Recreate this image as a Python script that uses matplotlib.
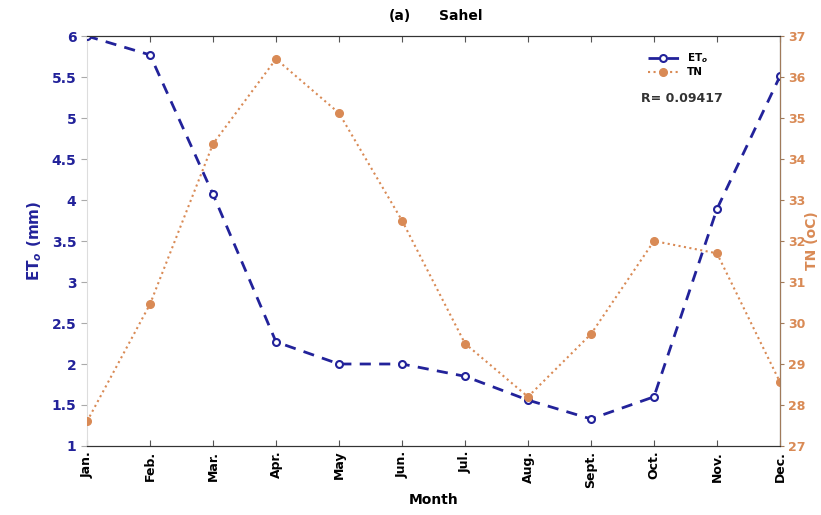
import matplotlib
matplotlib.use("Agg")
import matplotlib.pyplot as plt

# Data
months = ["Jan.", "Feb.", "Mar.", "Apr.", "May", "Jun.", "Jul.", "Aug.", "Sept.", "Oct.", "Nov.", "Dec."]
eto = [6.0, 5.77, 4.07, 2.27, 2.0, 2.0, 1.85, 1.56, 1.33, 1.6, 3.89, 5.51]
tn = [27.6, 30.46, 34.37, 36.44, 35.12, 32.5, 29.5, 28.2, 29.73, 32.0, 31.7, 28.56]
r_text = "R= 0.09417"

c_BLUE = "#22229a"
c_ORANGE = "#d98a55"
c_RSPINE = "#a07a5a"

plt.rcParams["font.family"] = "DejaVu Sans"
plt.rcParams["font.weight"] = "bold"

fig = plt.figure(figsize=(8.21, 5.15), dpi=100)
ax = fig.add_axes([0.106, 0.134, 0.844, 0.796])
ax2 = ax.twinx()

x = list(range(len(months)))
l1, = ax.plot(x, eto, linestyle=(0, (4, 3)), color=c_BLUE, linewidth=2,
              marker="o", markersize=5, markerfacecolor="white",
              markeredgecolor=c_BLUE, markeredgewidth=1.5, label="ET$_o$", zorder=3)
l2, = ax2.plot(x, tn, linestyle=":", color=c_ORANGE, linewidth=1.5,
               marker="o", markersize=5.5, markerfacecolor=c_ORANGE,
               markeredgecolor=c_ORANGE, label="TN")

ax.set_xlim(0, 11)
ax.set_ylim(1, 6)
ax.set_yticks([1, 1.5, 2, 2.5, 3, 3.5, 4, 4.5, 5, 5.5, 6])
ax.set_yticklabels(["1", "1.5", "2", "2.5", "3", "3.5", "4", "4.5", "5", "5.5", "6"])
ax2.set_ylim(27, 37)
ax2.set_yticks(range(27, 38))

ax.set_xticks(x)
ax.set_xticklabels(months, rotation=90, fontsize=9)
ax.tick_params(axis="x", direction="in", top=True, length=4, color="#555555")
ax.tick_params(axis="y", colors=c_BLUE, labelsize=10, length=4)
ax.tick_params(axis="y", color="#aaaaaa")
ax2.tick_params(axis="y", colors=c_ORANGE, labelsize=9, length=3, pad=3)
ax2.tick_params(axis="y", color=c_RSPINE)

ax.spines["left"].set_color("#dddddd")
ax.spines["top"].set_color("#333333")
ax.spines["bottom"].set_color("#333333")
ax2.spines["left"].set_visible(False)
ax2.spines["right"].set_color(c_RSPINE)
ax2.spines["top"].set_color("#333333")
ax2.spines["bottom"].set_color("#333333")

ax.set_ylabel("ET$_o$ (mm)", color=c_BLUE, fontsize=11, fontweight="bold", labelpad=6)
ax2.set_ylabel("TN (oC)", color=c_ORANGE, fontsize=10, fontweight="bold")
ax2.yaxis.set_label_coords(1.036, 0.5)
ax.set_xlabel("Month", fontsize=10, fontweight="bold")
fig.text(0.473, 0.968, "(a)", fontsize=10, ha="left", va="center")
fig.text(0.535, 0.968, "Sahel", fontsize=10, ha="left", va="center")

ax2.legend(handles=[l1, l2], loc="upper right", bbox_to_anchor=(0.91, 0.985),
           frameon=False, fontsize=7.5, handlelength=3, labelspacing=0.2)
ax2.text(0.8, 0.84, r_text, transform=ax2.transAxes, fontsize=9, color="#333333")

fig.savefig("out.png", dpi=100)
